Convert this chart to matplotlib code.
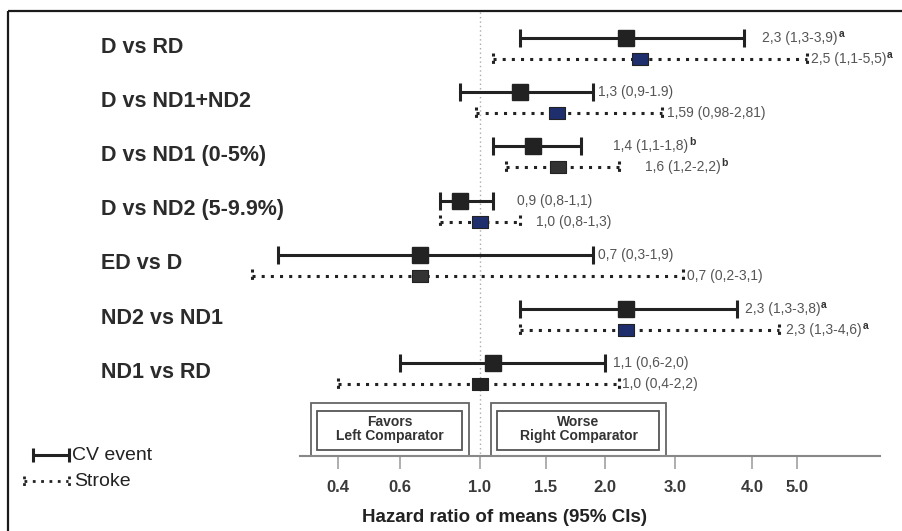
import numpy as np
import matplotlib
matplotlib.use('Agg')
import matplotlib.pyplot as plt
from matplotlib.patches import Rectangle
from matplotlib.path import Path
from matplotlib.transforms import Affine2D, blended_transform_factory

plt.rcParams['font.family'] = ['Liberation Sans', 'DejaVu Sans']

# ---- data ----
comparisons = ['D vs RD', 'D vs ND1+ND2', 'D vs ND1 (0-5%)', 'D vs ND2 (5-9.9%)',
               'ED vs D', 'ND2 vs ND1', 'ND1 vs RD']

cv_hr = [2.3, 1.3, 1.4, 0.9, 0.7, 2.3, 1.1]
cv_lo = [1.3, 0.9, 1.1, 0.8, 0.3, 1.3, 0.6]
cv_hi = [3.9, 1.9, 1.8, 1.1, 1.9, 3.8, 2.0]

stroke_hr = [2.5, 1.59, 1.6, 1.0, 0.7, 2.3, 1.0]
stroke_lo = [1.1, 0.98, 1.2, 0.8, 0.2, 1.3, 0.4]
stroke_hi = [5.5, 2.81, 2.2, 1.3, 3.1, 4.6, 2.2]

cv_text = ['2,3 (1,3-3,9)', '1,3 (0,9-1.9)', '1,4 (1,1-1,8)', '0,9 (0,8-1,1)',
           '0,7 (0,3-1,9)', '2,3 (1,3-3,8)', '1,1 (0,6-2,0)']
cv_sup = ['a', '', 'b', '', '', 'a', '']
stroke_text = ['2,5 (1,1-5,5)', '1,59 (0,98-2,81)', '1,6 (1,2-2,2)', '1,0 (0,8-1,3)',
               '0,7 (0,2-3,1)', '2,3 (1,3-4,6)', '1,0 (0,4-2,2)']
stroke_sup = ['a', '', 'b', '', '', 'a', '']

tick_vals = [0.4, 0.6, 1.0, 1.5, 2.0, 3.0, 4.0, 5.0]
tick_labels = ['0.4', '0.6', '1.0', '1.5', '2.0', '3.0', '4.0', '5.0']

# ---- styling / layout ----
W, H = 903, 531
INK = '#222222'
NAVY = '#1f2f6e'
stroke_colors = [NAVY, NAVY, '#333333', NAVY, '#333333', NAVY, '#222222']
cv_gap = [18, 5, 32, 24, 5, 8, 8]        # px between CI end and its label
stroke_gap = [4, 5, 26, 16, 4, 7, 3]

# the original axis is neither linear nor log: piecewise scale through these knots
hr_knots = [0.01, 0.2, 0.3, 0.4, 0.6, 1.0, 1.5, 2.0, 3.0, 4.0, 5.0, 5.5, 10.0]
px_knots = [0, 252, 278, 338, 400, 480, 546, 605, 675, 752, 797, 807, 903]


def fwd(v):
    return np.interp(v, hr_knots, px_knots)


def inv(p):
    return np.interp(p, px_knots, hr_knots)


ROW0, STEP = 45.0, 54.2


def y_of_px(p):
    return (p - ROW0) / STEP


fig = plt.figure(figsize=(W / 100, H / 100), dpi=100)
fig.patch.set_facecolor('white')
ax = fig.add_axes([0, 0, 1, 1])
ax.patch.set_alpha(0)
ax.set_xscale('function', functions=(fwd, inv))
ax.set_xlim(hr_knots[0], hr_knots[-1])
ax.set_ylim(y_of_px(H), y_of_px(0))

px = Affine2D().scale(1, -1).translate(0, H)   # pixel coords, origin top-left

# frame round the figure
fig.patches.append(Rectangle((8, 11), W, H, transform=px, fill=False,
                             ec='#1a1a1a', lw=1.6))

# reference line at HR = 1
y_axis = y_of_px(456)
ax.plot([1.0, 1.0], [y_of_px(12), y_axis], ls=(0, (1, 2.2)), color='#aaaaaa', lw=1.0, zorder=1)

rows = np.arange(len(comparisons))
cv_y = rows - 0.13
st_y = rows + 0.26
rect = Path([(-7.5, -5.5), (7.5, -5.5), (7.5, 5.5), (-7.5, 5.5), (-7.5, -5.5)],
            [Path.MOVETO, Path.LINETO, Path.LINETO, Path.LINETO, Path.CLOSEPOLY])

for i in rows:
    ax.text(101 / W, i + 0.14, comparisons[i], transform=blended_transform_factory(ax.transAxes, ax.transData),
            fontsize=15.5, fontweight='bold', color='#2b2b2b', va='baseline', ha='left')

    # CV event: solid interval with caps
    ax.plot([cv_lo[i], cv_hi[i]], [cv_y[i], cv_y[i]], color=INK, lw=2.2, solid_capstyle='butt', zorder=3)
    ax.plot([cv_lo[i], cv_hi[i]], [cv_y[i], cv_y[i]], ls='none', marker='|', ms=13, mew=2.2, color=INK, zorder=3)
    ax.plot(cv_hr[i], cv_y[i], marker='s', ms=12, color=INK, zorder=4)

    # Stroke: dotted interval with dotted caps
    ax.plot([stroke_lo[i], stroke_hi[i]], [st_y[i], st_y[i]], color=INK, lw=2.2, ls=(0, (1, 2)), zorder=3)
    for v in (stroke_lo[i], stroke_hi[i]):
        ax.plot([v, v], [st_y[i] - 0.12, st_y[i] + 0.12], color=INK, lw=2.2, ls=(0, (1, 1.4)), zorder=3)
    ax.plot(stroke_hr[i], st_y[i], marker=rect, ms=11, mfc=stroke_colors[i], mec='#222222', mew=0.8, zorder=4)

    for txt, sup, x, y, gap in ((cv_text[i], cv_sup[i], cv_hi[i], cv_y[i], cv_gap[i]),
                                (stroke_text[i], stroke_sup[i], stroke_hi[i], st_y[i], stroke_gap[i])):
        t = ax.annotate(txt, xy=(x, y), xytext=(gap * 0.72, 0), textcoords='offset points',
                        fontsize=10, color='#555555', va='center', ha='left')
        if sup:
            ax.annotate(sup, xy=(1, 0.8), xycoords=t, xytext=(0.5, 0), textcoords='offset points',
                        fontsize=7.5, fontweight='bold', color='#333333', va='center', ha='left')

# x axis
ax.yaxis.set_visible(False)
for s in ('left', 'right', 'top'):
    ax.spines[s].set_visible(False)
ax.spines['bottom'].set_position(('data', y_axis))
ax.spines['bottom'].set_bounds(inv(300), inv(880))
ax.spines['bottom'].set_color('#888888')
ax.spines['bottom'].set_linewidth(1.5)
ax.set_xticks(tick_vals)
ax.set_xticklabels(tick_labels, fontweight='bold')
ax.xaxis.set_minor_locator(matplotlib.ticker.NullLocator())
ax.tick_params(axis='x', direction='out', length=9.4, width=1.1, color='#999999',
               pad=8, labelsize=12, labelcolor='#3a3a3a')
ax.text(505 / W, y_of_px(517), 'Hazard ratio of means (95% CIs)',
        transform=blended_transform_factory(ax.transAxes, ax.transData),
        fontsize=13.5, fontweight='bold', color='#222222', ha='center', va='center')

# comparator boxes
for x0, x1, l1, l2 in ((311, 469, 'Favors', 'Left Comparator'),
                       (491, 666, 'Worse', 'Right Comparator')):
    ax.add_patch(Rectangle((x0, 403), x1 - x0, 53, transform=px, fill=False, ec='#666666', lw=1.3, zorder=2))
    ax.add_patch(Rectangle((x0 + 6, 411), x1 - x0 - 13, 39, transform=px, fill=False, ec='#555555', lw=1.3, zorder=2))
    ax.text((x0 + x1) / 2, 429, l1 + '\n' + l2, transform=px, ha='center', va='center',
            fontsize=10, fontweight='bold', color='#333333', linespacing=0.95)

# legend
ax.plot([33, 69], [455, 455], transform=px, color=INK, lw=2.2, solid_capstyle='butt', clip_on=False)
ax.plot([33, 69], [455, 455], transform=px, ls='none', marker='|', ms=10, mew=2.2, color=INK, clip_on=False)
ax.plot([24, 68], [481, 481], transform=px, color=INK, lw=2.0, ls=(0, (1, 2)), clip_on=False)
for xx in (24, 69):
    ax.plot([xx, xx], [476, 486], transform=px, color=INK, lw=2.0, ls=(0, (1, 1.4)), clip_on=False)
ax.text(72, 456, 'CV event', transform=px, fontsize=14, color='#222222', va='center', ha='left')
ax.text(74, 482, 'Stroke', transform=px, fontsize=14, color='#222222', va='center', ha='left')

fig.savefig('out.png', dpi=100)
